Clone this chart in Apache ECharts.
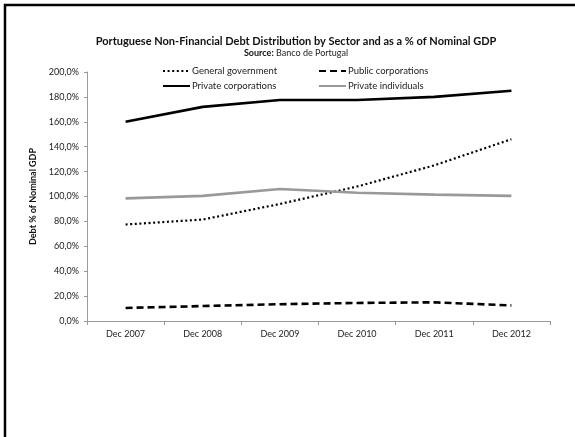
<!DOCTYPE html>
<html><head><meta charset="utf-8">
<script src="https://cdn.jsdelivr.net/npm/echarts@6/dist/echarts.min.js"></script>
<style>html,body{margin:0;padding:0;background:#fff}#c{width:575px;height:437px}</style>
</head><body><div id="c"></div>
<script>
const categories = ['Dec 2007','Dec 2008','Dec 2009','Dec 2010','Dec 2011','Dec 2012'];
const generalGovernment = [77.5, 81.5, 94, 108, 125, 146];
const publicCorporations = [10.5, 12, 13.5, 14.5, 15, 12.5];
const privateCorporations = [160, 172, 177.5, 177.5, 180, 185];
const privateIndividuals = [98.5, 100.5, 106, 103, 101.5, 100.5];
const yTicks = {min: 0, max: 200, interval: 20};

const FONT = 'Lato';
const chart = echarts.init(document.getElementById('c'), null, {renderer: 'canvas'});
function leg(name, left, top) {
  return {data: [name], left: left, top: top, itemWidth: 27, itemHeight: 10, itemGap: 0,
    padding: 0, selectedMode: false, itemStyle: {opacity: 0},
    textStyle: {fontFamily: FONT, fontSize: 9.5, color: '#222', padding: [0,0,0,-3]}};
}
chart.setOption({
  animation: false,
  backgroundColor: '#fff',
  title: {
    text: 'Portuguese Non-Financial Debt Distribution by Sector and as a % of Nominal GDP',
    subtext: '{b|Source:} Banco de Portugal',
    left: 291, textAlign: 'center', top: 31, itemGap: 2,
    textStyle: {fontFamily: FONT, fontSize: 11, fontWeight: 'bold', color: '#111'},
    subtextStyle: {fontFamily: FONT, fontSize: 9, color: '#222',
      rich: {b: {fontFamily: FONT, fontSize: 9, fontWeight: 'bold', color: '#111'}}}
  },
  legend: [
    leg('General government', 162, 66),
    leg('Public corporations', 318, 66),
    leg('Private corporations', 162, 81),
    leg('Private individuals', 318, 81)
  ],
  grid: {left: 87, right: 25, top: 72, bottom: 116, containLabel: false},
  xAxis: {
    type: 'category', data: categories, boundaryGap: true,
    axisLine: {lineStyle: {color: '#9a9a9a', width: 1}},
    axisTick: {show: true, length: 4, lineStyle: {color: '#9a9a9a'}},
    axisLabel: {fontFamily: FONT, fontSize: 9, color: '#222', margin: 9}
  },
  yAxis: {
    type: 'value', min: yTicks.min, max: yTicks.max, interval: yTicks.interval,
    name: 'Debt % of Nominal GDP', nameLocation: 'middle', nameGap: 45, nameRotate: 90,
    nameTextStyle: {fontFamily: FONT, fontSize: 9, fontWeight: 'bold', color: '#111'},
    axisLine: {show: true, lineStyle: {color: '#9a9a9a', width: 1}},
    axisTick: {show: true, length: 3, inside: false, lineStyle: {color: '#9a9a9a'}},
    splitLine: {show: false},
    axisLabel: {fontFamily: FONT, fontSize: 9, color: '#222', margin: 8,
      formatter: v => v.toFixed(1).replace('.', ',') + '%'}
  },
  series: [
    {name: 'General government', type: 'line', data: generalGovernment, symbol: 'none',
     color: '#000', lineStyle: {color: '#000', width: 2.2, type: [2, 2.6], cap: 'butt'}},
    {name: 'Public corporations', type: 'line', data: publicCorporations, symbol: 'none',
     color: '#000', lineStyle: {color: '#000', width: 2.6, type: [7, 4]}},
    {name: 'Private corporations', type: 'line', data: privateCorporations, symbol: 'none',
     color: '#000', lineStyle: {color: '#000', width: 2.6}},
    {name: 'Private individuals', type: 'line', data: privateIndividuals, symbol: 'none',
     color: '#999', lineStyle: {color: '#999', width: 2.6}}
  ],
  graphic: [{type: 'polyline', silent: true,
    shape: {points: [[5, 437], [5, 5], [575, 5]]},
    style: {stroke: '#000', lineWidth: 2.5, fill: null}}]
});
</script></body></html>
